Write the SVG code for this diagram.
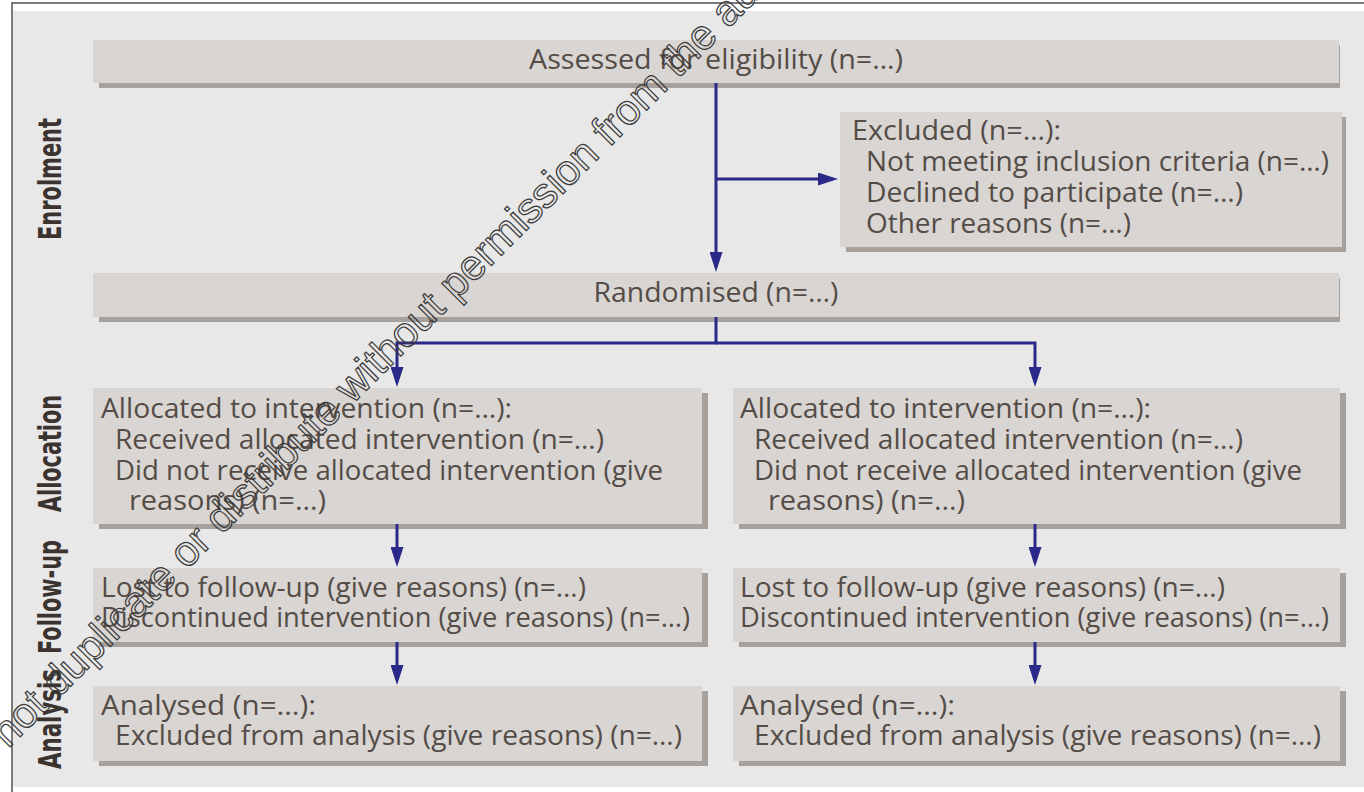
<svg xmlns="http://www.w3.org/2000/svg" width="1364" height="792" viewBox="0 0 1364 792">
<defs>
<style>
.box{fill:#d9d5d2}
.sh{fill:#a7a19e}
.t{font-family:"Open Sans","Noto Sans",sans-serif;font-size:28px;fill:#544c47}
.lbl{font-family:"Liberation Sans Narrow","DejaVu Sans Condensed","Liberation Sans",sans-serif;font-weight:bold;font-size:32px;fill:#3a3330}
.wm{font-family:"Liberation Sans",Arial,sans-serif;font-size:42.5px;fill:none;stroke:#3a3a3a;stroke-width:1.2}
</style>
<marker id="ah" markerUnits="userSpaceOnUse" markerWidth="20" markerHeight="13" refX="15" refY="6.5" orient="auto" viewBox="0 0 20 13">
<path d="M0,0 L20,6.5 L0,13 z" fill="#2a2888"/>
</marker>
</defs>
<rect x="0" y="0" width="1364" height="792" fill="#ffffff"/>
<g id="frame">
<rect x="13" y="11" width="1351" height="776" fill="#e8e8e8"/>
<line x1="11" y1="3" x2="1364" y2="3" stroke="#7a7a7a" stroke-width="2"/>
<line x1="12" y1="2" x2="12" y2="792" stroke="#7a7a7a" stroke-width="2"/>
</g>
<g id="stage-labels">
<text class="lbl" transform="translate(60.5,179) rotate(-90)" text-anchor="middle" textLength="122" lengthAdjust="spacingAndGlyphs">Enrolment</text>
<text class="lbl" transform="translate(60.5,453.5) rotate(-90)" text-anchor="middle" textLength="117" lengthAdjust="spacingAndGlyphs">Allocation</text>
<text class="lbl" transform="translate(60.5,597) rotate(-90)" text-anchor="middle" textLength="114" lengthAdjust="spacingAndGlyphs">Follow-up</text>
<text class="lbl" transform="translate(60.5,719) rotate(-90)" text-anchor="middle" textLength="100" lengthAdjust="spacingAndGlyphs">Analysis</text>
</g>
<g id="assessed">
<rect class="sh" x="99" y="45" width="1241" height="43"/>
<rect class="box" x="93" y="40" width="1246" height="43"/>
<text class="t" x="716" y="69" text-anchor="middle" textLength="374" lengthAdjust="spacingAndGlyphs">Assessed for eligibility (n=…)</text>
</g>
<g id="excluded">
<rect class="sh" x="846" y="117" width="500" height="135"/>
<rect class="box" x="840" y="112" width="502" height="135"/>
<text class="t" x="852" y="140" textLength="209" lengthAdjust="spacingAndGlyphs">Excluded (n=…):</text>
<text class="t" x="866" y="171" textLength="463" lengthAdjust="spacingAndGlyphs">Not meeting inclusion criteria (n=…)</text>
<text class="t" x="866" y="202" textLength="377" lengthAdjust="spacingAndGlyphs">Declined to participate (n=…)</text>
<text class="t" x="866" y="233" textLength="265" lengthAdjust="spacingAndGlyphs">Other reasons (n=…)</text>
</g>
<g id="randomised">
<rect class="sh" x="99" y="278" width="1241" height="44"/>
<rect class="box" x="93" y="273" width="1246" height="44"/>
<text class="t" x="716" y="302" text-anchor="middle" textLength="245" lengthAdjust="spacingAndGlyphs">Randomised (n=…)</text>
</g>
<g id="allocation-left">
<rect class="sh" x="99" y="393" width="609" height="136"/>
<rect class="box" x="93" y="388" width="609" height="136"/>
<text class="t" x="101" y="418" textLength="411" lengthAdjust="spacingAndGlyphs">Allocated to intervention (n=…):</text>
<text class="t" x="115" y="449" textLength="489" lengthAdjust="spacingAndGlyphs">Received allocated intervention (n=…)</text>
<text class="t" x="115" y="480" textLength="548" lengthAdjust="spacingAndGlyphs">Did not receive allocated intervention (give</text>
<text class="t" x="129" y="510" textLength="197" lengthAdjust="spacingAndGlyphs">reasons) (n=…)</text>
</g>
<g id="allocation-right">
<rect class="sh" x="739" y="393" width="607" height="136"/>
<rect class="box" x="733" y="388" width="607" height="136"/>
<text class="t" x="740" y="418" textLength="411" lengthAdjust="spacingAndGlyphs">Allocated to intervention (n=…):</text>
<text class="t" x="754" y="449" textLength="489" lengthAdjust="spacingAndGlyphs">Received allocated intervention (n=…)</text>
<text class="t" x="754" y="480" textLength="548" lengthAdjust="spacingAndGlyphs">Did not receive allocated intervention (give</text>
<text class="t" x="768" y="510" textLength="197" lengthAdjust="spacingAndGlyphs">reasons) (n=…)</text>
</g>
<g id="followup-left">
<rect class="sh" x="99" y="573" width="609" height="74"/>
<rect class="box" x="93" y="568" width="609" height="74"/>
<text class="t" x="101" y="597" textLength="485" lengthAdjust="spacingAndGlyphs">Lost to follow-up (give reasons) (n=…)</text>
<text class="t" x="101" y="627" textLength="589" lengthAdjust="spacingAndGlyphs">Discontinued intervention (give reasons) (n=…)</text>
</g>
<g id="followup-right">
<rect class="sh" x="739" y="573" width="607" height="74"/>
<rect class="box" x="733" y="568" width="607" height="74"/>
<text class="t" x="740" y="597" textLength="485" lengthAdjust="spacingAndGlyphs">Lost to follow-up (give reasons) (n=…)</text>
<text class="t" x="740" y="627" textLength="589" lengthAdjust="spacingAndGlyphs">Discontinued intervention (give reasons) (n=…)</text>
</g>
<g id="analysis-left">
<rect class="sh" x="99" y="691" width="609" height="75"/>
<rect class="box" x="93" y="686" width="609" height="75"/>
<text class="t" x="101" y="715" textLength="215" lengthAdjust="spacingAndGlyphs">Analysed (n=…):</text>
<text class="t" x="115" y="745" textLength="567" lengthAdjust="spacingAndGlyphs">Excluded from analysis (give reasons) (n=…)</text>
</g>
<g id="analysis-right">
<rect class="sh" x="739" y="691" width="607" height="75"/>
<rect class="box" x="733" y="686" width="607" height="75"/>
<text class="t" x="740" y="715" textLength="215" lengthAdjust="spacingAndGlyphs">Analysed (n=…):</text>
<text class="t" x="754" y="745" textLength="567" lengthAdjust="spacingAndGlyphs">Excluded from analysis (give reasons) (n=…)</text>
</g>
<g id="connectors" fill="none" stroke="#2a2888" stroke-width="3">
<path d="M716,83 V267" marker-end="url(#ah)"/>
<path d="M716,179 H833" marker-end="url(#ah)"/>
<path d="M716,317 V343 H397 V382" marker-end="url(#ah)"/>
<path d="M716,343 H1035 V382" marker-end="url(#ah)"/>
<path d="M397,524 V562" marker-end="url(#ah)"/>
<path d="M1035,524 V562" marker-end="url(#ah)"/>
<path d="M397,642 V680" marker-end="url(#ah)"/>
<path d="M1035,642 V680" marker-end="url(#ah)"/>
</g>
<g id="watermark">
<text class="wm" transform="translate(8,749) rotate(-45)">not duplicate or distribute without permission from the au</text>
</g>
</svg>
